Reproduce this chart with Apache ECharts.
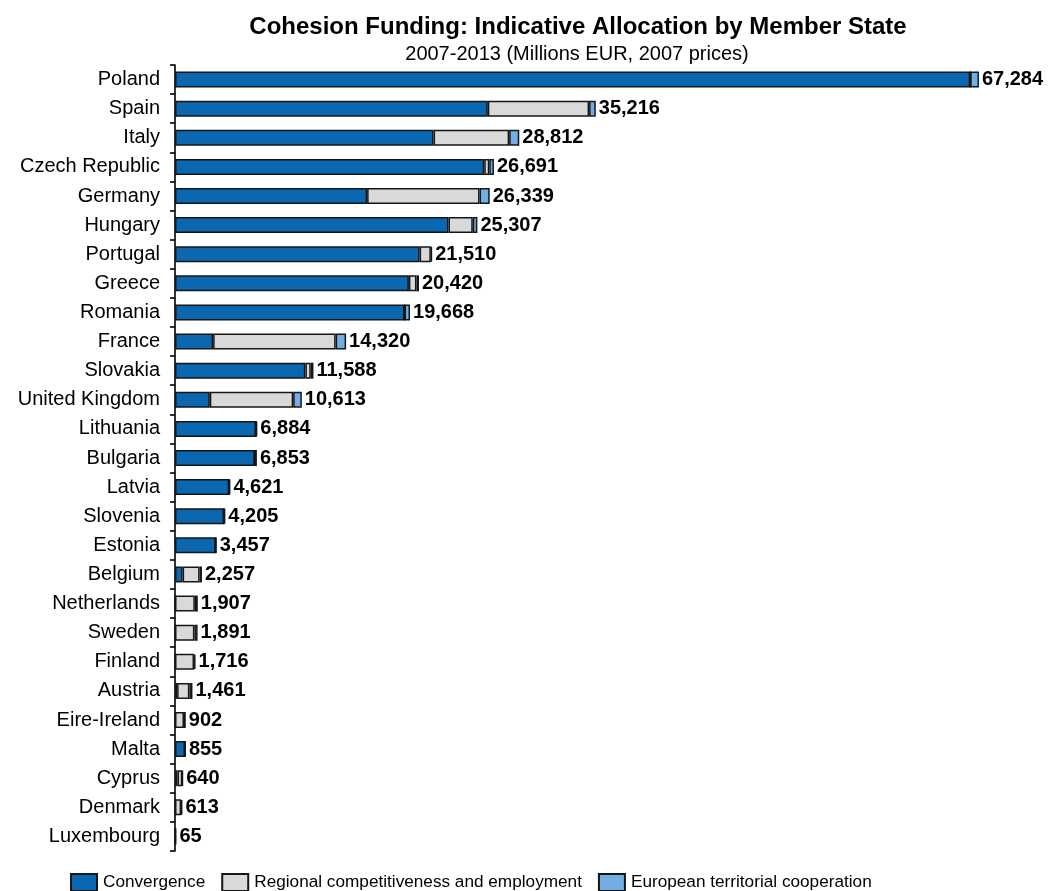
<!DOCTYPE html>
<html>
<head>
<meta charset="utf-8">
<title>Cohesion Funding: Indicative Allocation by Member State</title>
<script src="https://cdn.jsdelivr.net/npm/echarts@6/dist/echarts.min.js"></script>
<style>
  html, body { margin: 0; padding: 0; background: #fff; }
  #chart { width: 1049px; height: 891px; }
</style>
</head>
<body>
<div id="chart"></div>
<script>
// Member states, largest allocation first (millions EUR, 2007 prices)
const countries = [
  'Poland', 'Spain', 'Italy', 'Czech Republic', 'Germany', 'Hungary', 'Portugal',
  'Greece', 'Romania', 'France', 'Slovakia', 'United Kingdom', 'Lithuania',
  'Bulgaria', 'Latvia', 'Slovenia', 'Estonia', 'Belgium', 'Netherlands', 'Sweden',
  'Finland', 'Austria', 'Eire-Ireland', 'Malta', 'Cyprus', 'Denmark', 'Luxembourg'
];
const convergence = [
  66553, 26180, 21641, 25883, 16079, 22890, 20473,
  19575, 19213, 3191, 10912, 2912, 6775,
  6674, 4531, 4101, 3404, 638, 0, 0,
  0, 177, 0, 840, 213, 0, 0
];
const competitiveness = [
  0, 8477, 6325, 419, 9409, 2031, 938,
  635, 0, 10257, 449, 6979, 0,
  0, 0, 0, 0, 1425, 1660, 1626,
  1596, 1027, 751, 0, 399, 510, 50
];
const territorial = [
  731, 559, 846, 389, 851, 386, 99,
  210, 455, 872, 227, 722, 109,
  179, 90, 104, 53, 194, 247, 265,
  120, 257, 151, 15, 28, 103, 15
];
const seriesNames = [
  'Convergence',
  'Regional competitiveness and employment',
  'European territorial cooperation'
];

// Bar-end labels show each member state's total across the three objectives
const totals = countries.map((_, i) => convergence[i] + competitiveness[i] + territorial[i]);
const fmt = v => v.toLocaleString('en-US');

const FONT = '"Liberation Sans", Arial, sans-serif';
const border = { borderColor: '#161616', borderWidth: 1.5 };

const chart = echarts.init(document.getElementById('chart'), null, { renderer: 'canvas' });

chart.setOption({
  backgroundColor: '#ffffff',
  animation: false,
  textStyle: { fontFamily: FONT },
  graphic: [
    {
      type: 'text', x: 578, y: 27,
      style: {
        text: 'Cohesion Funding: Indicative Allocation by Member State',
        font: 'bold 24px ' + FONT, fill: '#000',
        textAlign: 'center', textVerticalAlign: 'middle'
      }
    },
    {
      type: 'text', x: 577, y: 54,
      style: {
        text: '2007-2013 (Millions EUR, 2007 prices)',
        font: '20px ' + FONT, fill: '#000',
        textAlign: 'center', textVerticalAlign: 'middle'
      }
    }
  ],
  legend: {
    data: seriesNames,
    left: 65,
    top: 868,
    itemWidth: 26,
    itemHeight: 17,
    itemGap: 16,
    icon: 'rect',
    textStyle: { fontSize: 17.2, color: '#000', fontFamily: FONT, padding: [0, 0, 0, 1] }
  },
  grid: { left: 175, top: 65, height: 786, width: 836.4, containLabel: false },
  xAxis: {
    type: 'value',
    min: 0,
    max: 70000,
    show: false
  },
  yAxis: {
    type: 'category',
    data: countries,
    inverse: true,
    axisLine: { show: true, lineStyle: { color: '#000', width: 1.6 } },
    axisTick: { show: true, length: 5, lineStyle: { color: '#000', width: 1.6 } },
    axisLabel: { margin: 15, fontSize: 20, color: '#000', fontFamily: FONT },
    splitLine: { show: false }
  },
  series: [
    {
      name: seriesNames[0], type: 'bar', stack: 'total', barWidth: 16,
      itemStyle: Object.assign({ color: '#0a67b0' }, border),
      data: convergence
    },
    {
      name: seriesNames[1], type: 'bar', stack: 'total', barWidth: 16,
      itemStyle: Object.assign({ color: '#d9d9d9' }, border),
      data: competitiveness
    },
    {
      name: seriesNames[2], type: 'bar', stack: 'total', barWidth: 16,
      itemStyle: Object.assign({ color: '#72ade3' }, border),
      data: territorial,
      label: {
        show: true,
        position: 'right',
        distance: 3,
        fontSize: 20,
        fontWeight: 'bold',
        color: '#000',
        fontFamily: FONT,
        formatter: p => fmt(totals[p.dataIndex])
      }
    }
  ]
});
</script>
</body>
</html>
